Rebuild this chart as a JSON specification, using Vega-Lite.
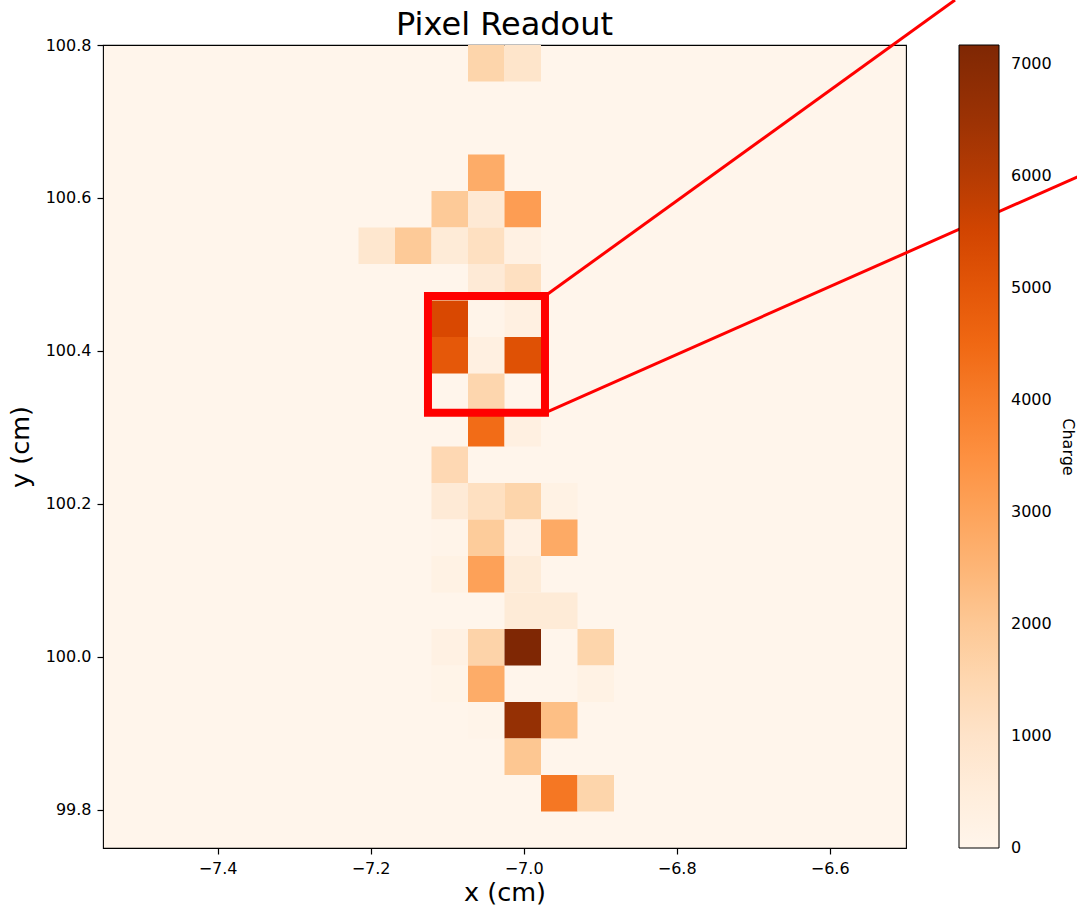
{
  "$schema": "https://vega.github.io/schema/vega-lite/v6.json",
  "width": 803,
  "height": 803,
  "autosize": {"type": "none"},
  "padding": {"left": 103, "top": 45, "right": 171, "bottom": 57},
  "background": "#ffffff",
  "title": {
    "text": "Pixel Readout",
    "font": "DejaVu Sans",
    "fontSize": 32,
    "fontWeight": "normal",
    "color": "#000000",
    "frame": "group",
    "anchor": "middle",
    "baseline": "alphabetic",
    "offset": -68
  },
  "config": {
    "font": "DejaVu Sans",
    "view": {"fill": "#fff5eb", "stroke": "#000000", "strokeWidth": 1.1}
  },
  "datasets": {
    "pixels": [
      {"x0": -7.0727, "x1": -7.0250, "y0": 100.7523, "y1": 100.8000, "charge": 1600},
      {"x0": -7.0250, "x1": -6.9773, "y0": 100.7523, "y1": 100.8000, "charge": 950},
      {"x0": -7.0727, "x1": -7.0250, "y0": 100.6091, "y1": 100.6568, "charge": 2750},
      {"x0": -7.1204, "x1": -7.0727, "y0": 100.5614, "y1": 100.6091, "charge": 1950},
      {"x0": -7.0727, "x1": -7.0250, "y0": 100.5614, "y1": 100.6091, "charge": 700},
      {"x0": -7.0250, "x1": -6.9773, "y0": 100.5614, "y1": 100.6091, "charge": 3150},
      {"x0": -7.2158, "x1": -7.1681, "y0": 100.5136, "y1": 100.5614, "charge": 850},
      {"x0": -7.1681, "x1": -7.1204, "y0": 100.5136, "y1": 100.5614, "charge": 1950},
      {"x0": -7.1204, "x1": -7.0727, "y0": 100.5136, "y1": 100.5614, "charge": 600},
      {"x0": -7.0727, "x1": -7.0250, "y0": 100.5136, "y1": 100.5614, "charge": 1150},
      {"x0": -7.0250, "x1": -6.9773, "y0": 100.5136, "y1": 100.5614, "charge": 250},
      {"x0": -7.0727, "x1": -7.0250, "y0": 100.4659, "y1": 100.5136, "charge": 650},
      {"x0": -7.0250, "x1": -6.9773, "y0": 100.4659, "y1": 100.5136, "charge": 1150},
      {"x0": -7.1204, "x1": -7.0727, "y0": 100.4182, "y1": 100.4659, "charge": 5380},
      {"x0": -7.0727, "x1": -7.0250, "y0": 100.4182, "y1": 100.4659, "charge": 50},
      {"x0": -7.0250, "x1": -6.9773, "y0": 100.4182, "y1": 100.4659, "charge": 300},
      {"x0": -7.1204, "x1": -7.0727, "y0": 100.3705, "y1": 100.4182, "charge": 4950},
      {"x0": -7.0727, "x1": -7.0250, "y0": 100.3705, "y1": 100.4182, "charge": 300},
      {"x0": -7.0250, "x1": -6.9773, "y0": 100.3705, "y1": 100.4182, "charge": 5150},
      {"x0": -7.0727, "x1": -7.0250, "y0": 100.3227, "y1": 100.3705, "charge": 1550},
      {"x0": -7.0727, "x1": -7.0250, "y0": 100.2750, "y1": 100.3227, "charge": 4400},
      {"x0": -7.0250, "x1": -6.9773, "y0": 100.2750, "y1": 100.3227, "charge": 300},
      {"x0": -7.1204, "x1": -7.0727, "y0": 100.2273, "y1": 100.2750, "charge": 1450},
      {"x0": -7.1204, "x1": -7.0727, "y0": 100.1795, "y1": 100.2273, "charge": 650},
      {"x0": -7.0727, "x1": -7.0250, "y0": 100.1795, "y1": 100.2273, "charge": 1150},
      {"x0": -7.0250, "x1": -6.9773, "y0": 100.1795, "y1": 100.2273, "charge": 1600},
      {"x0": -6.9773, "x1": -6.9296, "y0": 100.1795, "y1": 100.2273, "charge": 200},
      {"x0": -7.1204, "x1": -7.0727, "y0": 100.1318, "y1": 100.1795, "charge": 50},
      {"x0": -7.0727, "x1": -7.0250, "y0": 100.1318, "y1": 100.1795, "charge": 1900},
      {"x0": -7.0250, "x1": -6.9773, "y0": 100.1318, "y1": 100.1795, "charge": 250},
      {"x0": -6.9773, "x1": -6.9296, "y0": 100.1318, "y1": 100.1795, "charge": 2800},
      {"x0": -7.1204, "x1": -7.0727, "y0": 100.0841, "y1": 100.1318, "charge": 200},
      {"x0": -7.0727, "x1": -7.0250, "y0": 100.0841, "y1": 100.1318, "charge": 3050},
      {"x0": -7.0250, "x1": -6.9773, "y0": 100.0841, "y1": 100.1318, "charge": 550},
      {"x0": -7.0250, "x1": -6.9773, "y0": 100.0364, "y1": 100.0841, "charge": 600},
      {"x0": -6.9773, "x1": -6.9296, "y0": 100.0364, "y1": 100.0841, "charge": 600},
      {"x0": -7.1204, "x1": -7.0727, "y0": 99.9886, "y1": 100.0364, "charge": 250},
      {"x0": -7.0727, "x1": -7.0250, "y0": 99.9886, "y1": 100.0364, "charge": 1650},
      {"x0": -7.0250, "x1": -6.9773, "y0": 99.9886, "y1": 100.0364, "charge": 7170},
      {"x0": -6.9296, "x1": -6.8819, "y0": 99.9886, "y1": 100.0364, "charge": 1600},
      {"x0": -7.1204, "x1": -7.0727, "y0": 99.9409, "y1": 99.9886, "charge": 80},
      {"x0": -7.0727, "x1": -7.0250, "y0": 99.9409, "y1": 99.9886, "charge": 2750},
      {"x0": -6.9296, "x1": -6.8819, "y0": 99.9409, "y1": 99.9886, "charge": 200},
      {"x0": -7.0727, "x1": -7.0250, "y0": 99.8932, "y1": 99.9409, "charge": 60},
      {"x0": -7.0250, "x1": -6.9773, "y0": 99.8932, "y1": 99.9409, "charge": 6650},
      {"x0": -6.9773, "x1": -6.9296, "y0": 99.8932, "y1": 99.9409, "charge": 2250},
      {"x0": -7.0250, "x1": -6.9773, "y0": 99.8455, "y1": 99.8932, "charge": 2050},
      {"x0": -6.9773, "x1": -6.9296, "y0": 99.7977, "y1": 99.8455, "charge": 4150},
      {"x0": -6.9296, "x1": -6.8819, "y0": 99.7977, "y1": 99.8455, "charge": 1600}
    ],
    "zoomBox": [
      {"x0": -7.1250, "x1": -6.9721, "y0": 100.3190, "y1": 100.4718}
    ],
    "zoomLines": [
      {"x0": -6.9721, "y0": 100.4718, "x1": -6.4363, "y1": 100.8588},
      {"x0": -6.9721, "y0": 100.3190, "x1": -6.2468, "y1": 100.6406}
    ]
  },
  "layer": [
    {
      "data": {"name": "pixels"},
      "mark": {"type": "rect", "strokeWidth": 0},
      "encoding": {
        "x": {
          "field": "x0",
          "type": "quantitative",
          "scale": {"domain": [-7.5497, -6.5003], "nice": false, "zero": false},
          "axis": {
            "title": "x (cm)",
            "values": [-7.4, -7.2, -7.0, -6.8, -6.6],
            "format": ".1f",
            "grid": false,
            "domain": false,
            "labelFlush": false,
            "labelFont": "DejaVu Sans",
            "labelFontSize": 16,
            "labelColor": "#000000",
            "labelPadding": 6,
            "tickColor": "#000000",
            "tickSize": 6,
            "tickWidth": 1.2,
            "titleFont": "DejaVu Sans",
            "titleFontSize": 25.5,
            "titleFontWeight": "normal",
            "titleColor": "#000000",
            "titlePadding": 4
          }
        },
        "x2": {"field": "x1"},
        "y": {
          "field": "y0",
          "type": "quantitative",
          "scale": {"domain": [99.75, 100.8], "nice": false, "zero": false},
          "axis": {
            "title": "y (cm)",
            "values": [99.8, 100.0, 100.2, 100.4, 100.6, 100.8],
            "format": ".1f",
            "grid": false,
            "domain": false,
            "labelFlush": false,
            "labelOverlap": false,
            "labelFont": "DejaVu Sans",
            "labelFontSize": 16,
            "labelColor": "#000000",
            "labelPadding": 6,
            "tickColor": "#000000",
            "tickSize": 6,
            "tickWidth": 1.2,
            "titleFont": "DejaVu Sans",
            "titleFontSize": 25.5,
            "titleFontWeight": "normal",
            "titleColor": "#000000",
            "titlePadding": 12
          }
        },
        "y2": {"field": "y1"},
        "color": {
          "field": "charge",
          "type": "quantitative",
          "scale": {
            "domain": [-1, 7170],
            "range": ["#fff5eb", "#fee6ce", "#fdd0a2", "#fdae6b", "#fd8d3c", "#f16913", "#d94801", "#a63603", "#7f2704"]
          },
          "legend": {
            "type": "gradient",
            "direction": "vertical",
            "orient": "right",
            "offset": 53,
            "padding": 0,
            "gradientLength": 803,
            "gradientThickness": 40,
            "gradientStrokeColor": "#000000",
            "gradientStrokeWidth": 1,
            "values": [0, 1000, 2000, 3000, 4000, 5000, 6000, 7000],
            "format": "d",
            "labelFont": "DejaVu Sans",
            "labelFontSize": 16,
            "labelColor": "#000000",
            "labelOffset": 12,
            "title": "Charge",
            "titleOrient": "right",
            "titleAnchor": "middle",
            "titleFont": "DejaVu Sans",
            "titleFontSize": 16,
            "titleFontWeight": "normal",
            "titleColor": "#000000",
            "titlePadding": 8
          }
        }
      }
    },
    {
      "data": {"name": "zoomBox"},
      "mark": {"type": "rect", "fill": null, "fillOpacity": 0, "stroke": "#ff0000", "strokeWidth": 8, "clip": false},
      "encoding": {
        "x": {"field": "x0", "type": "quantitative"},
        "x2": {"field": "x1"},
        "y": {"field": "y0", "type": "quantitative"},
        "y2": {"field": "y1"}
      }
    },
    {
      "data": {"name": "zoomLines"},
      "mark": {"type": "rule", "color": "#ff0000", "strokeWidth": 3, "clip": false},
      "encoding": {
        "x": {"field": "x0", "type": "quantitative"},
        "y": {"field": "y0", "type": "quantitative"},
        "x2": {"field": "x1"},
        "y2": {"field": "y1"}
      }
    }
  ]
}
